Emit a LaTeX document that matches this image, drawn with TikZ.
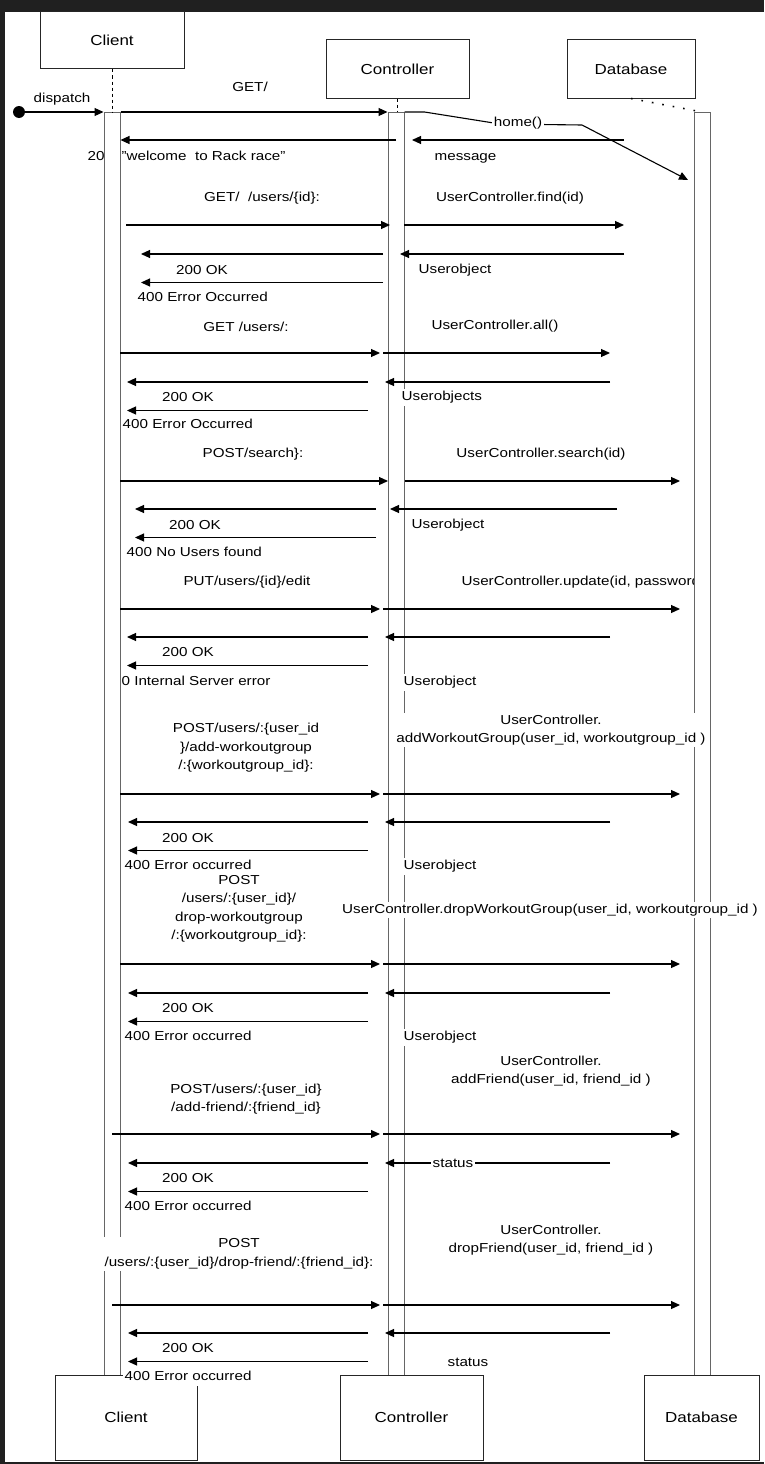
\documentclass[tikz,border=0pt]{standalone}
\usepackage{fontspec}
\setmainfont{Liberation Sans}[FakeStretch=1.17]
\usetikzlibrary{arrows.meta}

\definecolor{framegray}{RGB}{32,32,32}

\tikzset{
  lifebox/.style={draw=black!85, fill=white, line width=1pt, inner sep=0pt,
    font=\fontsize{14.5}{17}\selectfont},
  actbar/.style={draw=black!60, fill=white, line width=1pt, inner sep=0pt,
    minimum width=16pt, minimum height=1263pt, anchor=north},
  msg/.style={line width=1.1pt, -{Triangle[length=9pt,width=8pt]}},
  lbl/.style={fill=white, inner sep=1.5pt, align=center},
  lbw/.style={fill=white, inner sep=1.5pt, anchor=west, text height=10.5pt, text depth=3.5pt},
}

\begin{document}
\begin{tikzpicture}[x=1pt, y=-1pt, font=\fontsize{13}{18.5}\selectfont]
    \fill[framegray] (0,0) rectangle (764,1464);
    \fill[white] (5,12) rectangle (764,1462);
    \useasboundingbox (0,0) rectangle (764,1464);

    % heads of the lifelines
    \node[lifebox, minimum width=144pt, minimum height=57pt] (clientTop) at (112,40.5) {Client};
    \node[lifebox, minimum width=143pt, minimum height=58pt] (ctrlTop) at (397.5,69) {Controller};
    \node[lifebox, minimum width=128pt, minimum height=58pt] (dbTop) at (631,69) {Database};

    % labels that sit under the bars
    \node[lbw] (welcome) at (86,157) {200\ \ \char34welcome\ \ to Rack race\char34};
    \node[lbw] (badText0) at (103,682) {500 Internal Server error};
    \node[lbw] (updText) at (460,582) {UserController.update(id, password)};

    % activation bars
    \node[actbar] (clientBar) at (112,112) {};
    \node[actbar] (ctrlBar) at (396,112) {};
    \node[actbar] (dbBar) at (702,112) {};

    \draw[dashed, line width=1pt] (clientTop.south) -- (clientBar.north);
    \draw[dashed, line width=1pt] (ctrlTop.south) -- (ctrlTop.south |- ctrlBar.north);
    \draw[line width=1.6pt, dash pattern=on 1.6pt off 9pt] (dbTop.south) -- (dbBar.north);

    % feet of the lifelines
    \node[lifebox, minimum width=142pt, minimum height=85pt] (clientBot) at (126,1417.5) {Client};
    \node[lifebox, minimum width=143pt, minimum height=85pt] (ctrlBot) at (411.5,1417.5) {Controller};
    \node[lifebox, minimum width=115pt, minimum height=85pt] (dbBot) at (701.5,1417.5) {Database};

    % dispatch and home()
    \node[circle, fill=black, minimum size=12pt, inner sep=0pt] (origin) at (19,112) {};
    \draw[msg] (origin) -- (clientBar.north west);
    \draw[msg] (clientBar.north east) -- (ctrlBar.north west);
    \coordinate (homeEnd) at (688,180);
    \draw[msg] (ctrlBar.north east) -- ++(20,0) -- (500,124) -- (582,125) -- (homeEnd);
    \coordinate (msgFrom) at (624,140);
    \coordinate (msgTo) at (412,140);
    \coordinate (welFrom) at (396,140);
    \draw[msg] (msgFrom) -- (msgTo);
    \draw[msg] (welFrom) -- (clientBar.east |- welFrom);

    % requests: client -> controller -> database
    \foreach \y/\ca/\cb/\da/\db [count=\i] in {
      225/126/390/404/624, 353/120/380/383/610, 481/120/388/405/680,
      609/120/380/383/680, 794/120/380/383/680, 964/120/380/383/680,
      1134/112/380/383/680, 1305/112/380/383/680} {
      \coordinate (req\i-a) at (\ca,\y);
      \coordinate (req\i-b) at (\cb,\y);
      \coordinate (call\i-a) at (\da,\y);
      \coordinate (call\i-b) at (\db,\y);
      \draw[msg] (req\i-a) -- (req\i-b);
      \draw[msg] (call\i-a) -- (call\i-b);
    }

    % answers: database -> controller -> client
    \foreach \y/\da/\db/\ca/\cb [
      count=\i,
      evaluate={\z using \y+28.5}
    ] in {
      254/624/400/383/141, 382/610/385/368/127, 509/617/390/376/135,
      637/610/385/368/127, 822/610/385/368/128, 993/610/385/368/128,
      1163/610/385/368/128, 1333/610/385/368/128} {
      \coordinate (ret\i-a) at (\da,\y);
      \coordinate (ret\i-b) at (\db,\y);
      \coordinate (ok\i-a) at (\ca,\y);
      \coordinate (ok\i-b) at (\cb,\y);
      \coordinate (bad\i-a) at (\ca,\z);
      \coordinate (bad\i-b) at (\cb,\z);
      \draw[msg] (ret\i-a) -- (ret\i-b);
      \draw[msg] (ok\i-a) -- (ok\i-b);
      \draw[msg] (bad\i-a) -- (bad\i-b);
    }

    % labels
    \node[lbl] (dispText) at (62,99) {dispatch};
    \node[lbl] (getText) at (250,87) {GET/};
    \node[lbl] (homeText) at (518,123) {home()};
    \node[lbw] (msgText) at (433,157) {message};

    \node[lbl] (reqText1) at (262,198) {GET/\ \ /users/\{id\}:};
    \node[lbl] (reqText2) at (246,327) {GET /users/:};
    \node[lbl] (reqText3) at (253,454) {POST/search\}:};
    \node[lbl] (reqText4) at (247,582) {PUT/users/\{id\}/edit};
    \node[lbl] (reqText5) at (246,748) {POST/users/:\{user\_id\\\}/add-workoutgroup\\/:\{workoutgroup\_id\}:};
    \node[lbl] (reqText6) at (239,909) {POST\\/users/:\{user\_id\}/\\drop-workoutgroup\\/:\{workoutgroup\_id\}:};
    \node[lbl] (reqText7) at (246,1099) {POST/users/:\{user\_id\}\\/add-friend/:\{friend\_id\}};
    \node[lbl] (reqText8) at (239,1254) {POST\\/users/:\{user\_id\}/drop-friend/:\{friend\_id\}:};

    \node[lbl] (callText1) at (510,198) {UserController.find(id)};
    \node[lbl] (callText2) at (495,326) {UserController.all()};
    \node[lbl] (callText3) at (541,454) {UserController.search(id)};
    \node[lbl] (callText5) at (551,730) {UserController.\\addWorkoutGroup(user\_id, workoutgroup\_id )};
    \node[lbl] (callText6) at (550,910) {UserController.dropWorkoutGroup(user\_id, workoutgroup\_id )};
    \node[lbl] (callText7) at (551,1071) {UserController.\\addFriend(user\_id, friend\_id )};
    \node[lbl] (callText8) at (551,1240) {UserController.\\dropFriend(user\_id, friend\_id )};

    \foreach \y/\x [count=\i] in {270/202, 397/188, 525/195, 652/188, 838/188, 1008/188, 1178/188, 1348/188}
      \node[lbl] (okText\i) at (\x,\y) {200 OK};

    \foreach \y/\x/\t [count=\i] in {
      298/136/400 Error Occurred, 425/121/400 Error Occurred, 553/125/400 No Users found,
      866/123/400 Error occurred, 1037/123/400 Error occurred, 1207/123/400 Error occurred,
      1377/123/400 Error occurred}
      \node[lbw] (badText\i) at (\x,\y) {\t};

    \foreach \y/\x/\t [count=\i] in {
      270/417/Userobject, 397/400/Userobjects, 525/410/Userobject,
      682/402/Userobject, 866/402/Userobject, 1037/402/Userobject}
      \node[lbw] (objText\i) at (\x,\y) {\t};

    \node[lbl] (statusText1) at (453,1163) {status};
    \node[lbw] (statusText2) at (446,1363) {status};
\end{tikzpicture}
\end{document}
